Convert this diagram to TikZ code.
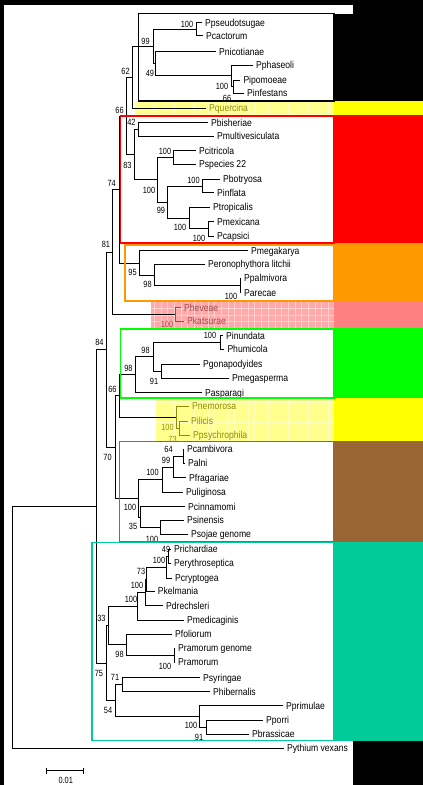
\documentclass[tikz,border=0pt]{standalone}
\usepackage{fontspec}
\newfontfamily\taxfont[FakeStretch=0.86]{Liberation Sans}
\newfontfamily\bsfont[FakeStretch=0.82]{Liberation Sans}
\definecolor{cladered}{RGB}{255,0,0}
\definecolor{cladeorange}{RGB}{255,153,0}
\definecolor{cladesalmon}{RGB}{255,128,128}
\definecolor{cladegreen}{RGB}{0,255,0}
\definecolor{cladeyellow}{RGB}{255,255,0}
\definecolor{cladebrown}{RGB}{153,102,51}
\definecolor{cladeteal}{RGB}{0,204,153}
\definecolor{hatchyellow}{RGB}{255,255,140}
\definecolor{hatchpink}{RGB}{255,170,170}
\definecolor{olivetext}{RGB}{140,140,10}
\definecolor{pinktext}{RGB}{165,70,70}
\tikzset{taxon/.style={anchor=west,inner xsep=3pt,inner ysep=0pt,text height=9.2pt,text depth=2pt,font=\taxfont\fontsize{10}{10}\selectfont},bs/.style={inner sep=0pt,text height=6.4pt,text depth=0pt,font=\bsfont\fontsize{9}{9}\selectfont},branch/.style={line width=0.7pt},cladebox/.style={line width=1.2pt},hatchgrid/.style={white,line width=0.4pt,opacity=0.45}}

\begin{document}
\begin{tikzpicture}[x=1pt,y=-1pt]
\useasboundingbox (0,0) rectangle (423,785);
\fill[black] (0,0) rectangle (423,785);
\fill[white] (4,5) rectangle (353,785);
% colour bars
\fill[black] (334,13.5) rectangle (423,101);
\fill[cladeyellow] (334,101) rectangle (423,115);
\fill[cladered] (334,115) rectangle (423,243);
\fill[cladeorange] (334,243) rectangle (423,301);
\fill[cladesalmon] (334,301) rectangle (423,328);
\fill[cladegreen] (334,328) rectangle (423,398);
\fill[cladeyellow] (334,398) rectangle (423,441);
\fill[cladebrown] (334,441) rectangle (423,542);
\fill[cladeteal] (334,542) rectangle (423,740.5);
% hatched strips
\fill[hatchyellow] (135,101) rectangle (334,115);
\fill[hatchpink] (151,301) rectangle (334,328);
\fill[hatchyellow] (156,398) rectangle (334,441);
\draw[hatchgrid] (135,101) grid[step=6.7pt] (334,115);
\draw[hatchgrid] (151,301) grid[step=6.7pt] (334,328);
\draw[hatchgrid] (156,398) grid[step=6.7pt] (334,441);

% inner nodes
\coordinate (c_pseu) at (196,29.2);
\coordinate (c_ipom) at (233.3,86.5);
\coordinate (c_phas) at (231,75.8);
\coordinate (c_nico) at (155,63.7);
\coordinate (c_top) at (153,46.5);
\coordinate (c_62) at (132,77.2);
\coordinate (c_42) at (138.3,129.3);
\coordinate (c_cit) at (173,157.3);
\coordinate (c_bot) at (202,186);
\coordinate (c_mex) at (208,228.8);
\coordinate (c_trop) at (189,218);
\coordinate (c_99r) at (167,202);
\coordinate (c_100r) at (157.7,179.7);
\coordinate (c_83) at (134.3,154.5);
\coordinate (c_66a) at (126.7,116.1);
\coordinate (c_pal) at (240,285.5);
\coordinate (c_98o) at (154,274.9);
\coordinate (c_95) at (139,262.9);
\coordinate (c_74) at (119.3,189.5);
\coordinate (c_hev) at (175,314.3);
\coordinate (c_81) at (112.8,251.9);
\coordinate (c_inu) at (220,342.3);
\coordinate (c_gon) at (161.7,371.3);
\coordinate (c_98g) at (153,356.8);
\coordinate (c_98h) at (135,374.7);
\coordinate (c_ili) at (179,428);
\coordinate (c_nem) at (176,417);
\coordinate (c_66g) at (119.3,395.8);
\coordinate (c_cam) at (183,456.3);
\coordinate (c_99b) at (173,467);
\coordinate (c_uli) at (162.3,479.7);
\coordinate (c_sin) at (160.7,527);
\coordinate (c_35) at (140.3,516.9);
\coordinate (c_br) at (138.3,498.3);
\coordinate (c_70) at (115,447.1);
\coordinate (c_84) at (106.7,349.5);
\coordinate (c_ric) at (168.5,556.2);
\coordinate (c_cry) at (166.7,567.3);
\coordinate (c_73t) at (146.7,579.1);
\coordinate (c_dre) at (145,592.4);
\coordinate (c_med) at (137.7,606.2);
\coordinate (c_ram) at (174,655.3);
\coordinate (c_98t) at (126.7,644.7);
\coordinate (c_33) at (108,625.4);
\coordinate (c_syr) at (122.3,684.7);
\coordinate (c_por) at (206.7,727.2);
\coordinate (c_pri) at (199.3,716.4);
\coordinate (c_54) at (115,700.6);
\coordinate (c_75) at (106,663);
\coordinate (c_root) at (96.7,506.3);
\coordinate (c_out) at (12.7,627.3);

% taxa
\node[taxon] (pseudotsugae) at (202,22.7) {Ppseudotsugae};
\node[taxon] (cactorum) at (203,35.7) {Pcactorum};
\node[taxon] (nicotianae) at (216,51.7) {Pnicotianae};
\node[taxon] (phaseoli) at (253,65) {Pphaseoli};
\node[taxon] (ipomoeae) at (240.3,80) {Pipomoeae};
\node[taxon] (infestans) at (244,93) {Pinfestans};
\node[taxon,text=olivetext] (quercina) at (206,108) {Pquercina};
\node[taxon] (bisheriae) at (208,122.7) {Pbisheriae};
\node[taxon] (multivesiculata) at (214,136) {Pmultivesiculata};
\node[taxon] (citricola) at (196,150.7) {Pcitricola};
\node[taxon] (species22) at (196,164) {Pspecies 22};
\node[taxon] (botryosa) at (220,179.3) {Pbotryosa};
\node[taxon] (inflata) at (214,192.7) {Pinflata};
\node[taxon] (tropicalis) at (210,207.3) {Ptropicalis};
\node[taxon] (mexicana) at (214,221.7) {Pmexicana};
\node[taxon] (capsici) at (214,236) {Pcapsici};
\node[taxon] (megakarya) at (248,250.7) {Pmegakarya};
\node[taxon] (litchii) at (205,264.3) {Peronophythora litchii};
\node[taxon] (palmivora) at (241,278.3) {Ppalmivora};
\node[taxon] (arecae) at (241,292.7) {Parecae};
\node[taxon,text=pinktext] (heveae) at (181,307.7) {Pheveae};
\node[taxon,text=pinktext] (katsurae) at (184,321) {Pkatsurae};
\node[taxon] (inundata) at (223,335.7) {Pinundata};
\node[taxon] (humicola) at (224.3,349) {Phumicola};
\node[taxon] (gonapodyides) at (200,364.3) {Pgonapodyides};
\node[taxon] (megasperma) at (229,378.3) {Pmegasperma};
\node[taxon] (asparagi) at (202,392.7) {Pasparagi};
\node[taxon,text=olivetext] (nemorosa) at (189,406) {Pnemorosa};
\node[taxon,text=olivetext] (ilicis) at (188,421) {Pilicis};
\node[taxon,text=olivetext] (psychrophila) at (190,435) {Ppsychrophila};
\node[taxon] (cambivora) at (184,449.3) {Pcambivora};
\node[taxon] (alni) at (185,463.3) {Palni};
\node[taxon] (fragariae) at (186,477.7) {Pfragariae};
\node[taxon] (uliginosa) at (183,492.3) {Puliginosa};
\node[taxon] (cinnamomi) at (185,506.7) {Pcinnamomi};
\node[taxon] (sinensis) at (184,520) {Psinensis};
\node[taxon] (sojae) at (188,534) {Psojae genome};
\node[taxon] (richardiae) at (171,549) {Prichardiae};
\node[taxon] (erythroseptica) at (171,563.3) {Perythroseptica};
\node[taxon] (cryptogea) at (172,578.3) {Pcryptogea};
\node[taxon] (kelmania) at (154.7,591) {Pkelmania};
\node[taxon] (drechsleri) at (163,605.7) {Pdrechsleri};
\node[taxon] (medicaginis) at (184,620) {Pmedicaginis};
\node[taxon] (foliorum) at (172,634) {Pfoliorum};
\node[taxon] (ramorumgen) at (175,648.3) {Pramorum genome};
\node[taxon] (ramorum) at (175,662.3) {Pramorum};
\node[taxon] (syringae) at (200,677.7) {Psyringae};
\node[taxon] (hibernalis) at (210,691.7) {Phibernalis};
\node[taxon] (primulae) at (283,705.7) {Pprimulae};
\node[taxon] (porri) at (263,720) {Pporri};
\node[taxon] (brassicae) at (249,734.3) {Pbrassicae};
\node[taxon] (vexans) at (284,748.3) {Pythium vexans};

% branches
\draw[branch] (c_pseu) |- (pseudotsugae.west) (c_pseu) |- (cactorum.west)
  (c_ipom) |- (ipomoeae.west) (c_ipom) |- (infestans.west)
  (c_phas) |- (phaseoli.west) (c_phas) |- (c_ipom)
  (c_nico) |- (nicotianae.west) (c_nico) |- (c_phas)
  (c_top) |- (c_pseu) (c_top) |- (c_nico)
  (c_62) |- (c_top) (c_62) |- (quercina.west)
  (c_42) |- (bisheriae.west) (c_42) |- (multivesiculata.west)
  (c_cit) |- (citricola.west) (c_cit) |- (species22.west)
  (c_bot) |- (botryosa.west) (c_bot) |- (inflata.west)
  (c_mex) |- (mexicana.west) (c_mex) |- (capsici.west)
  (c_trop) |- (tropicalis.west) (c_trop) |- (c_mex)
  (c_99r) |- (c_bot) (c_99r) |- (c_trop)
  (c_100r) |- (c_cit) (c_100r) |- (c_99r)
  (c_83) |- (c_42) (c_83) |- (c_100r)
  (c_66a) |- (c_62) (c_66a) |- (c_83)
  (c_pal) |- (palmivora.west) (c_pal) |- (arecae.west)
  (c_98o) |- (litchii.west) (c_98o) |- (c_pal)
  (c_95) |- (megakarya.west) (c_95) |- (c_98o)
  (c_74) |- (c_66a) (c_74) |- (c_95)
  (c_81) |- (c_74) (c_81) |- (c_hev)
  (c_inu) |- (inundata.west) (c_inu) |- (humicola.west)
  (c_gon) |- (gonapodyides.west) (c_gon) |- (megasperma.west)
  (c_98g) |- (c_inu) (c_98g) |- (c_gon)
  (c_98h) |- (c_98g) (c_98h) |- (asparagi.west)
  (c_66g) |- (c_98h) (c_66g) |- (c_nem)
  (c_cam) |- (cambivora.west) (c_cam) |- (alni.west)
  (c_99b) |- (c_cam) (c_99b) |- (fragariae.west)
  (c_uli) |- (c_99b) (c_uli) |- (uliginosa.west)
  (c_sin) |- (sinensis.west) (c_sin) |- (sojae.west)
  (c_35) |- (cinnamomi.west) (c_35) |- (c_sin)
  (c_br) |- (c_uli) (c_br) |- (c_35)
  (c_70) |- (c_66g) (c_70) |- (c_br)
  (c_84) |- (c_81) (c_84) |- (c_70)
  (c_ric) |- (richardiae.west) (c_ric) |- (erythroseptica.west)
  (c_cry) |- (c_ric) (c_cry) |- (cryptogea.west)
  (c_73t) |- (c_cry) (c_73t) |- (kelmania.west)
  (c_dre) |- (c_73t) (c_dre) |- (drechsleri.west)
  (c_med) |- (c_dre) (c_med) |- (medicaginis.west)
  (c_ram) |- (ramorumgen.west) (c_ram) |- (ramorum.west)
  (c_98t) |- (foliorum.west) (c_98t) |- (c_ram)
  (c_33) |- (c_med) (c_33) |- (c_98t)
  (c_syr) |- (syringae.west) (c_syr) |- (hibernalis.west)
  (c_por) |- (porri.west) (c_por) |- (brassicae.west)
  (c_pri) |- (primulae.west) (c_pri) |- (c_por)
  (c_54) |- (c_syr) (c_54) |- (c_pri)
  (c_75) |- (c_33) (c_75) |- (c_54)
  (c_root) |- (c_84) (c_root) |- (c_75)
  (c_out) |- (c_root) (c_out) |- (vexans.west);
\draw[branch,pinktext] (c_hev) |- (heveae.west) (c_hev) |- (katsurae.west);
\draw[branch,olivetext] (c_ili) |- (ilicis.west) (c_ili) |- (psychrophila.west)
  (c_nem) |- (nemorosa.west) (c_nem) |- (c_ili);

% bootstrap values
\node[bs] (b_pseu) at (187,24) {100};
\node[bs] (b_top) at (145.5,41) {99};
\node[bs] (b_nico) at (150,73) {49};
\node[bs] (b_phas) at (222,86) {100};
\node[bs] (b_ipom) at (227,98) {66};
\node[bs] (b_62) at (125.5,71) {62};
\node[bs] (b_66a) at (119.5,110) {66};
\node[bs] (b_42) at (131.5,122.7) {42};
\node[bs] (b_83) at (127.5,165) {83};
\node[bs] (b_cit) at (165,151.7) {100};
\node[bs] (b_bot) at (193.5,180) {100};
\node[bs] (b_trop) at (180,227) {100};
\node[bs] (b_mex) at (199,238) {100};
\node[bs] (b_99r) at (161,210.7) {99};
\node[bs] (b_100r) at (149,190) {100};
\node[bs] (b_74) at (111.7,183) {74};
\node[bs] (b_81) at (106,244.5) {81};
\node[bs] (b_95) at (132.5,272.7) {95};
\node[bs] (b_98o) at (147.5,284) {98};
\node[bs] (b_pal) at (231,296) {100};
\node[bs,text=pinktext] (b_hev) at (167,324.3) {100};
\node[bs] (b_inu) at (210,335.7) {100};
\node[bs] (b_98g) at (145.5,350) {98};
\node[bs] (b_gon) at (154,381.7) {91};
\node[bs] (b_98h) at (128.5,368.3) {98};
\node[bs] (b_84) at (99.5,342.5) {84};
\node[bs] (b_66g) at (112.5,389.5) {66};
\node[bs,text=olivetext] (b_nem) at (167.5,427.3) {100};
\node[bs,text=olivetext] (b_ili) at (172.5,439.3) {73};
\node[bs] (b_70) at (107.5,457.3) {70};
\node[bs] (b_cam) at (168.5,449.3) {64};
\node[bs] (b_99b) at (166,460) {99};
\node[bs] (b_uli) at (152.5,472.7) {100};
\node[bs] (b_br) at (130,507.5) {100};
\node[bs] (b_35) at (133,526.5) {35};
\node[bs] (b_sin) at (152,539.3) {100};
\node[bs] (b_ric) at (166,549) {49};
\node[bs] (b_cry) at (159,560.7) {100};
\node[bs] (b_73t) at (141,571.7) {73};
\node[bs] (b_dre) at (137,585) {100};
\node[bs] (b_med) at (131,599) {100};
\node[bs] (b_33) at (101.5,618.3) {33};
\node[bs] (b_98t) at (119.5,654.3) {98};
\node[bs] (b_ram) at (165,666.7) {100};
\node[bs] (b_75) at (99,673) {75};
\node[bs] (b_syr) at (115,677.7) {71};
\node[bs] (b_54) at (108,710) {54};
\node[bs] (b_pri) at (191,725.7) {100};
\node[bs] (b_por) at (199,737.3) {91};

% clade boxes
\draw[cladebox,line width=1.5pt,black] (138.3,13.7) rectangle (334,101);
\draw[cladebox,line width=1.4pt,cladered] (120.5,116) rectangle (334,243);
\draw[cladebox,cladeorange] (125,245) rectangle (334,301);
\draw[cladebox,cladegreen] (120.5,329) rectangle (334,398);
\draw[cladebox,cladebrown] (119.3,441.5) rectangle (334,542);
\draw[cladebox,cladeteal] (92,542.5) rectangle (334,740.5);

% scale bar
\coordinate (sb_l) at (46.7,770.7);
\coordinate (sb_r) at (83.3,770.7);
\draw[branch] (sb_l) -- (sb_r);
\draw[branch] (sb_l) ++(0,-3) -- ++(0,6);
\draw[branch] (sb_r) ++(0,-3) -- ++(0,6);
\node[bs] (sb_lab) at (65.7,780.5) {0.01};
\end{tikzpicture}
\end{document}
